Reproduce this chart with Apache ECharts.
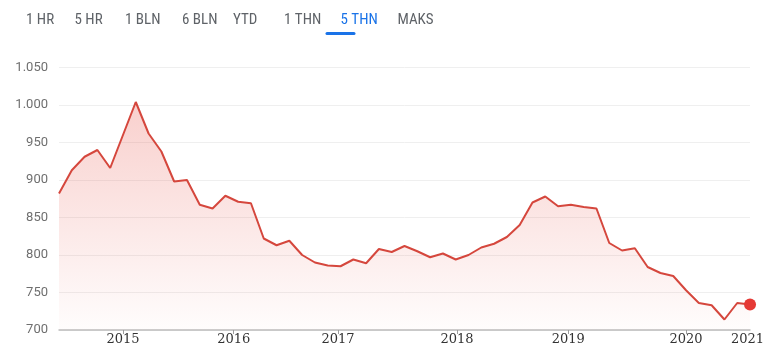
<!DOCTYPE html>
<html>
<head>
<meta charset="utf-8">
<script src="https://cdn.jsdelivr.net/npm/echarts@6/dist/echarts.min.js"></script>
<style>html,body{margin:0;padding:0;background:#fff}#c{width:767px;height:349px}</style>
</head>
<body>
<div id="c"></div>
<script>
// Tabs (range selector)
var tabLabels = ['1 HR', '5 HR', '1 BLN', '6 BLN', 'YTD', '1 THN', '5 THN', 'MAKS'];
var activeTab = '5 THN';

// Series values (sequential observations, index-based x)
var prices = [882, 913, 931, 940, 916, 960, 1004, 962, 938, 898,
              900, 867, 862, 879, 871, 869, 822, 813, 819, 800,
              790, 786, 785, 794, 789, 808, 804, 812, 805, 797,
              802, 794, 800, 810, 815, 824, 840, 870, 878, 865,
              867, 864, 862, 816, 806, 809, 784, 776, 772, 753,
              736, 733, 714, 736, 734];

// Year ticks: label and where the year starts along the observation index
var yearLabels = ['2015', '2016', '2017', '2018', '2019', '2020', '2021'];
var yearAt     = [5, 13.65, 21.8, 31.1, 39.8, 49.0, 53.8];
var yearTicksShown = 6; // last label ('2021') has no tick mark

// Y axis ticks
var yMin = 700, yMax = 1050, yStep = 50;

var lineData = prices.map(function (v, i) { return [i, v]; });
var lastPoint = [[prices.length - 1, prices[prices.length - 1]]];

function fmtThousands(v) {
  return String(v).replace(/\B(?=(\d{3})+(?!\d))/g, '.');
}

var chart = echarts.init(document.getElementById('c'), null, {renderer: 'canvas'});

var tabCenters = [26, 74.5, 125, 182, 233, 284, 340.5, 397.5];
var graphics = tabLabels.map(function (t, i) {
  return {
    type: 'text', left: tabCenters[i], top: 13,
    style: {
      text: t, x: 0, y: 0, textAlign: 'center',
      fill: t === activeTab ? '#1a73e8' : '#5f6368',
      font: '15px "Liberation Sans Narrow", "Roboto Condensed", Roboto, sans-serif'
    }
  };
});
var ai = tabLabels.indexOf(activeTab);
graphics.push({
  type: 'rect', left: tabCenters[ai] - 15, top: 32,
  shape: {width: 30, height: 3, r: 1.5},
  style: {fill: '#1a73e8'}
});

chart.setOption({
  animation: false,
  backgroundColor: '#ffffff',
  graphic: graphics,
  grid: {left: 59, right: 12, top: 67.5, bottom: 19, containLabel: false},
  xAxis: {
    type: 'value', min: 0, max: prices.length - 1,
    splitLine: {show: false},
    axisLine: {show: true, onZero: false, lineStyle: {color: '#bdbdbd', width: 1.5}},
    axisTick: {
      show: true, length: 4, inside: false,
      customValues: yearAt.slice(0, yearTicksShown),
      lineStyle: {color: '#9e9e9e', width: 1}
    },
    axisLabel: {
      show: true, margin: 3,
      customValues: yearAt,
      formatter: function (v) {
        for (var i = 0; i < yearAt.length; i++) {
          if (Math.abs(yearAt[i] - v) < 0.01) return yearLabels[i];
        }
        return '';
      },
      color: '#333333',
      fontFamily: '"DejaVu Serif", serif',
      fontSize: 13
    }
  },
  yAxis: {
    type: 'value', min: yMin, max: yMax, interval: yStep,
    axisLine: {show: false},
    axisTick: {show: false},
    splitLine: {show: true, lineStyle: {color: '#efefef', width: 1}},
    axisLabel: {
      margin: 11, color: '#6f6f6f',
      fontFamily: 'Roboto, "Noto Sans", sans-serif', fontSize: 13,
      formatter: function (v) { return fmtThousands(v); }
    }
  },
  series: [
    {
      type: 'line',
      data: lineData,
      symbol: 'none',
      lineStyle: {color: '#d5473d', width: 2},
      areaStyle: {
        origin: 'start',
        color: new echarts.graphic.LinearGradient(0, 0, 0, 1, [
          {offset: 0, color: 'rgba(232, 86, 76, 0.40)'},
          {offset: 1, color: 'rgba(232, 86, 76, 0.02)'}
        ])
      },
      z: 2
    },
    {
      type: 'scatter',
      data: lastPoint,
      symbol: 'circle',
      symbolSize: 12,
      itemStyle: {color: '#e53935', opacity: 1},
      z: 3
    }
  ]
});
</script>
</body>
</html>
